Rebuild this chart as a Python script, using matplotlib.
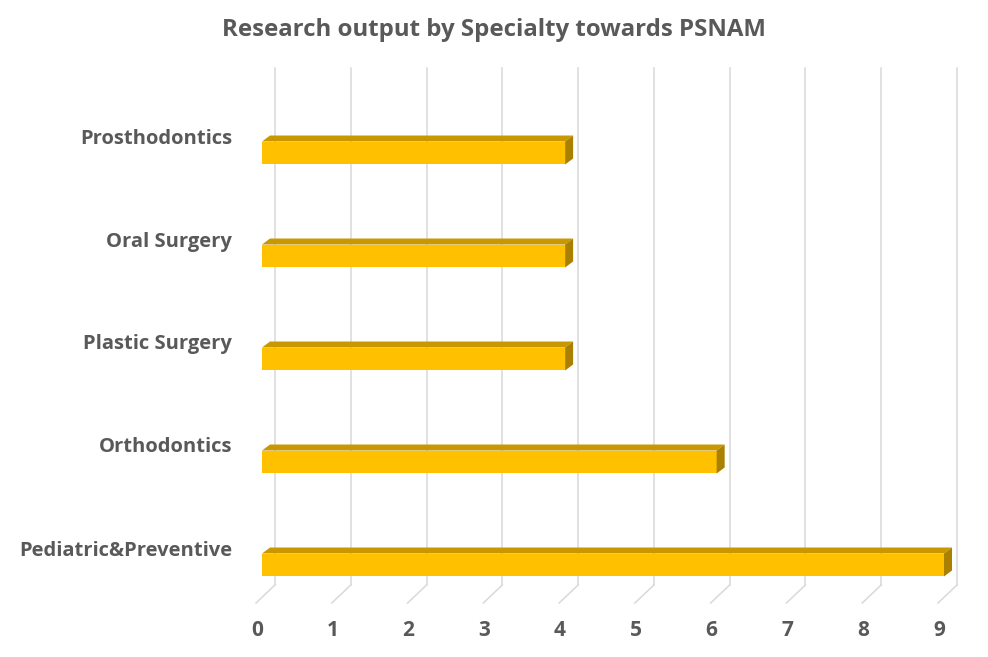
import matplotlib
matplotlib.use("Agg")
import matplotlib.pyplot as plt
from matplotlib.patches import Polygon
from matplotlib.transforms import ScaledTranslation
import numpy as np

specialties = ["Pediatric&Preventive", "Orthodontics", "Plastic Surgery",
               "Oral Surgery", "Prosthodontics"]
outputs = [9, 6, 4, 4, 4]
ticks = list(range(10))
title = "Research output by Specialty towards PSNAM"

TEXT = "#595959"
FRONT = "#FFC000"
TOP = "#C99700"
SIDE = "#A98000"
GRID = "#D9D9D9"

plt.rcParams["font.family"] = ["Open Sans", "DejaVu Sans"]

W, H = 988, 657
fig = plt.figure(figsize=(W / 100, H / 100), dpi=100)
ax = fig.add_axes([262 / W, 40.5 / H, 682 / W, 515 / H])
ax.set_xlim(0, 9)
ax.set_ylim(-0.5, 4.5)
ux = 9 / 682   # data units per pixel
uy = 5 / 515

# back-plane gridlines and floor lines
g_lo, g_hi = -0.194, 4.825
for t in ticks:
    xb = t + 13 * ux
    ax.plot([xb, xb], [g_lo, g_hi], color=GRID, lw=1.1, zorder=1, clip_on=False)
    ax.plot([xb, t - 6 * ux], [g_lo, g_lo - 18 * uy], color=GRID, lw=1.1,
            zorder=1, clip_on=False)

# 3D-ish bars
y = np.arange(len(specialties))
h = 0.223
dx, dy = 8 * ux, 6 * uy
ax.barh(y, outputs, height=h, color=FRONT, zorder=3)
for yi, v in zip(y, outputs):
    top = [(0, yi + h / 2), (v, yi + h / 2), (v + dx, yi + h / 2 + dy), (dx, yi + h / 2 + dy)]
    side = [(v, yi - h / 2), (v, yi + h / 2), (v + dx, yi + h / 2 + dy), (v + dx, yi - h / 2 + dy)]
    ax.add_patch(Polygon(top, closed=True, facecolor=TOP, edgecolor="none", zorder=3, clip_on=False))
    ax.add_patch(Polygon(side, closed=True, facecolor=SIDE, edgecolor="none", zorder=3, clip_on=False))

ax.set_xticks(ticks)
ax.set_xticklabels([str(t) for t in ticks], fontsize=15, fontweight="bold", color=TEXT)
ax.set_yticks(y)
ax.set_yticklabels(specialties, fontsize=14.5, fontweight="bold", color=TEXT)
ax.tick_params(axis="x", length=0, pad=2.5)
ax.tick_params(axis="y", length=0, pad=21.6)
for lab in ax.get_xticklabels():
    lab.set_transform(lab.get_transform() + ScaledTranslation(-5 / 100, 0, fig.dpi_scale_trans))
for lab in ax.get_yticklabels():
    lab.set_transform(lab.get_transform() + ScaledTranslation(0, 17 / 100, fig.dpi_scale_trans))
for s in ax.spines.values():
    s.set_visible(False)
ax.set_facecolor("none")

fig.text(494 / W, 1 - 30 / H, title, ha="center", va="center", fontsize=17.3,
         fontweight="bold", color=TEXT)

fig.savefig("out.png", dpi=100)
